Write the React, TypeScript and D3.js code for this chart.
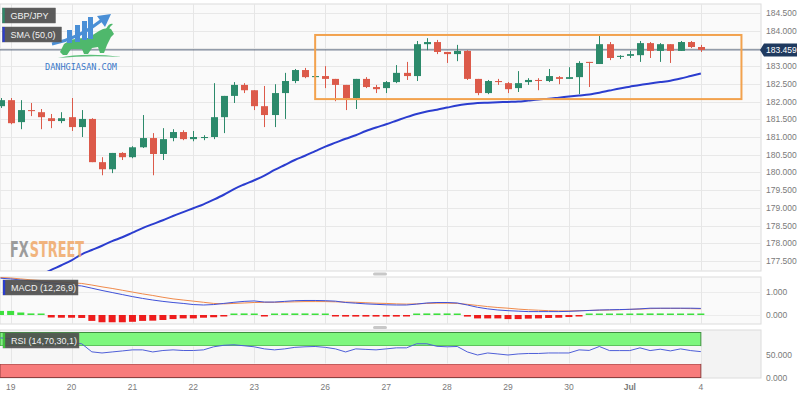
import React from "react";
import * as d3 from "d3";

// ---- Data (GBP/JPY, 4H candles) ----
const opens = [181.87,182.04,181.42,181.76,181.70,181.53,181.45,181.56,181.28,181.51,180.29,180.09,180.55,180.43,180.71,180.97,180.52,180.97,181.14,180.94,180.97,181.00,181.56,182.16,182.47,182.32,181.87,181.62,182.24,182.58,182.89,182.69,182.72,182.64,182.47,182.10,182.64,182.41,182.38,182.55,182.81,182.72,183.62,183.68,183.40,183.34,183.43,182.64,182.24,182.58,182.52,182.38,182.55,182.61,182.58,182.69,182.64,182.69,183.12,183.06,183.62,183.26,183.29,183.31,183.65,183.43,183.62,183.43,183.68,183.54];
const highs = [182.10,182.10,182.04,181.96,181.79,181.65,181.70,182.10,181.76,181.53,180.43,180.55,180.57,180.74,181.62,181.11,181.25,181.22,181.19,181.17,181.05,182.52,182.16,182.55,182.52,182.32,182.44,182.49,182.81,182.92,182.95,182.75,183.00,182.64,182.47,182.64,182.69,182.47,182.58,183.03,183.12,183.71,183.79,183.74,183.40,183.60,183.45,182.64,182.61,182.64,182.55,182.86,182.66,182.66,182.92,182.72,182.97,183.14,183.12,183.85,183.68,183.31,183.43,183.71,183.68,183.65,183.62,183.71,183.71,183.60];
const lows = [181.82,181.36,181.22,181.59,181.22,181.25,181.39,181.17,181.00,180.29,179.92,179.98,180.35,180.40,180.69,179.92,180.35,180.88,180.91,180.88,180.91,180.94,181.11,181.96,182.24,181.76,181.28,181.28,181.51,182.52,182.66,182.66,182.38,182.01,181.76,181.79,182.38,182.24,182.24,182.52,182.61,182.58,183.45,183.34,183.09,183.14,182.61,182.18,182.21,182.47,182.24,182.27,182.47,182.32,182.55,182.49,182.64,182.21,182.41,183.06,183.17,183.20,183.23,183.12,183.23,183.12,183.09,183.43,183.51,183.40];
const closes = [182.04,181.39,181.76,181.73,181.56,181.45,181.53,181.28,181.51,180.29,180.09,180.55,180.43,180.71,180.97,180.52,180.94,181.14,180.94,181.00,181.00,181.56,182.16,182.47,182.32,181.87,181.62,182.24,182.58,182.89,182.69,182.72,182.64,182.47,182.10,182.64,182.41,182.35,182.55,182.81,182.72,183.62,183.68,183.40,183.34,183.43,182.64,182.24,182.58,182.55,182.35,182.52,182.61,182.58,182.72,182.64,182.69,183.09,183.09,183.62,183.23,183.29,183.34,183.65,183.43,183.62,183.43,183.68,183.54,183.459];
const sma50: (number | null)[] = [null,null,null,null,177.11,177.25,177.38,177.52,177.69,177.81,177.93,178.06,178.17,178.30,178.43,178.54,178.65,178.77,178.88,178.99,179.10,179.23,179.37,179.53,179.66,179.78,179.91,180.07,180.21,180.35,180.47,180.60,180.73,180.84,180.95,181.05,181.17,181.27,181.36,181.46,181.56,181.65,181.72,181.77,181.83,181.89,181.93,181.96,181.97,181.98,181.99,182.00,182.03,182.06,182.08,182.11,182.14,182.17,182.20,182.25,182.31,182.37,182.42,182.47,182.51,182.55,182.59,182.65,182.72,182.79];
const macdLine = [1.62,1.59,1.54,1.50,1.45,1.41,1.37,1.32,1.28,1.18,1.08,0.99,0.90,0.81,0.73,0.66,0.60,0.55,0.51,0.46,0.44,0.46,0.51,0.56,0.60,0.62,0.57,0.57,0.60,0.63,0.64,0.64,0.63,0.61,0.55,0.52,0.49,0.47,0.45,0.44,0.44,0.48,0.53,0.55,0.55,0.53,0.44,0.34,0.27,0.22,0.19,0.17,0.15,0.15,0.15,0.15,0.16,0.18,0.20,0.22,0.23,0.24,0.25,0.27,0.30,0.30,0.30,0.30,0.30,0.29];
const signalLine = [1.65,1.63,1.59,1.55,1.52,1.48,1.45,1.42,1.39,1.32,1.24,1.17,1.09,1.01,0.93,0.86,0.78,0.71,0.66,0.61,0.56,0.51,0.49,0.51,0.53,0.55,0.56,0.56,0.57,0.58,0.59,0.59,0.59,0.58,0.57,0.56,0.54,0.52,0.51,0.49,0.48,0.49,0.51,0.52,0.52,0.51,0.47,0.42,0.37,0.33,0.30,0.26,0.23,0.21,0.19,0.18,0.18,0.19,0.20,0.21,0.22,0.23,0.25,0.26,0.28,0.29,0.29,0.29,0.28,0.27];
const macdHist = [0.18,0.18,0.11,0.07,0.02,-0.11,-0.12,-0.12,-0.13,-0.26,-0.32,-0.32,-0.32,-0.30,-0.26,-0.25,-0.22,-0.18,-0.15,-0.15,-0.12,-0.10,-0.04,0.04,0.07,0.06,-0.02,0.02,0.07,0.07,0.07,0.04,0.02,-0.02,-0.07,-0.07,-0.07,-0.07,-0.07,-0.07,-0.04,0.02,0.07,0.07,0.07,0.02,-0.07,-0.15,-0.15,-0.15,-0.18,-0.18,-0.16,-0.15,-0.13,-0.12,-0.09,-0.04,0.02,0.04,0.04,0.04,0.06,0.07,0.07,0.07,0.06,0.04,0.035,0.02];
const rsi14 = [88,86,82,80,77,77,77,77,75,57,54.5,56.8,59,61.4,61.4,56.8,60,61.4,60,60,61.4,68.2,71.6,72.7,70.5,68.2,63.6,61.4,63.6,67,68.2,68.9,67,63.6,56.8,63.6,62.5,61.4,63.6,65.9,65.9,75,75,69.3,68.2,68.9,56.8,50,54.5,52.3,50,52.3,53.4,53.4,54.5,54.5,54.5,61.4,60.2,68.9,59.8,59.8,59.8,65.9,59.8,62.9,59.1,63.6,59.8,57.5];

const dayTickIndex = [1, 7, 13, 19, 25, 32, 38, 44, 50, 56, 62, 69];
const dayLabels = ["19", "20", "21", "22", "23", "26", "27", "28", "29", "30", "Jul", "4"];
const priceTicks = [177.5, 178, 178.5, 179, 179.5, 180, 180.5, 181, 181.5, 182, 182.5, 183, 183.5, 184, 184.5];
const macdTicks = [0, 1];
const rsiTicks = [0, 50];
const lastPrice = 183.459;
const rangeBoxIndex = [31, 73];
const rangeBoxPrice = [182.07, 183.88];

const FONT = "'Liberation Sans', Arial, sans-serif";
const UP = "#2c8a6b";
const DOWN = "#dc5a4a";

export default function App() {
  const panelL = 0, panelR = 761;
  const main = { top: 4, bottom: 271 };
  const macdP = { top: 277, bottom: 324 };
  const rsiP = { top: 330, bottom: 378 };

  const x = d3.scaleLinear().domain([0, 69]).range([0.5, 700.85]);
  const y = d3.scaleLinear().domain([177.5, 184.5]).range([261, 13]);
  const yM = d3.scaleLinear().domain([0, 1]).range([315, 292.3]);
  const yR = d3.scaleLinear().domain([0, 100]).range([377.5, 332.5]);

  const smaPath = d3.line<number | null>()
    .defined((d) => d != null)
    .x((_, i) => x(i))
    .y((d) => y(d as number))
    .curve(d3.curveMonotoneX)(sma50) || "";
  const macdPath = d3.line<number>().x((_, i) => x(i)).y((d) => yM(d))(macdLine) || "";
  const sigPath = d3.line<number>().x((_, i) => x(i)).y((d) => yM(d))(signalLine) || "";
  const rsiPath = d3.line<number>().x((_, i) => x(i)).y((d) => yR(d))(rsi14) || "";

  const lastEnd = x(69);
  const bw = 7;

  const vGrid = (top: number, bottom: number) =>
    dayTickIndex.map((t, k) => (
      <line key={k} x1={Math.round(x(t)) + 0.5} x2={Math.round(x(t)) + 0.5} y1={top} y2={bottom} stroke="#e6e6e6" />
    ));

  const labelBox = (tx: string, bx: number, by: number, w: number, stripe: string) => (
    <g>
      <rect x={bx} y={by} width={w} height={15} fill="#4d4d4d" fillOpacity={0.92} stroke="#6a6a6a" strokeWidth={0.5} />
      <rect x={bx} y={by} width={2.2} height={15} fill={stripe} />
      <text x={bx + 8} y={by + 11} fontSize={9} fill="#f2f2f2" fontFamily={FONT}>{tx}</text>
    </g>
  );

  return (
    <svg width={800} height={400} style={{ position: "absolute", left: 0, top: 0, background: "#fff" }}>
      <defs>
        <clipPath id="mainClip"><rect x={panelL} y={main.top} width={panelR - panelL} height={main.bottom - main.top} /></clipPath>
        <clipPath id="macdClip"><rect x={panelL} y={macdP.top} width={panelR - panelL} height={macdP.bottom - macdP.top} /></clipPath>
      </defs>

      {/* ---------- MAIN PANEL ---------- */}
      <rect x={panelL} y={main.top} width={panelR - panelL} height={main.bottom - main.top} fill="#fafafa" stroke="#dcdcdc" />
      {priceTicks.map((p, k) => (
        <line key={k} x1={panelL} x2={panelR} y1={Math.round(y(p)) + 0.5} y2={Math.round(y(p)) + 0.5} stroke="#e8e8e8" />
      ))}
      {vGrid(main.top, main.bottom)}

      {/* price line */}
      <line x1={panelL} x2={764} y1={y(lastPrice)} y2={y(lastPrice)} stroke="#56647a" strokeWidth={1} />

      <g clipPath="url(#mainClip)">
        {closes.map((c, i) => {
          const o = opens[i];
          const up = c >= o;
          const col = up ? UP : DOWN;
          const cx = Math.round(x(i)) + 0.5;
          const top = y(Math.max(o, c));
          const h = Math.max(1, y(Math.min(o, c)) - top);
          return (
            <g key={i}>
              <line x1={cx} x2={cx} y1={y(highs[i])} y2={y(lows[i])} stroke={col} strokeWidth={1} />
              <rect x={cx - bw / 2} y={top} width={bw} height={h} fill={col} />
            </g>
          );
        })}
        <path d={smaPath} fill="none" stroke="#2b3dcf" strokeWidth={2} />
      </g>

      {/* range box */}
      <rect x={x(rangeBoxIndex[0])} y={y(rangeBoxPrice[1])} width={x(rangeBoxIndex[1]) - x(rangeBoxIndex[0])}
        height={y(rangeBoxPrice[0]) - y(rangeBoxPrice[1])} fill="none" stroke="#f2a24e" strokeWidth={2} />

      {/* watermark logo */}
      <g>
        <path d="M58,58 Q85,52 122,57 Q88,55 58,58 Z" fill="#5cbf7a" />
        <path d="M60,52 L64,44 Q72,37 88,38 L99,31 Q105,27 111,29 L114,34 L111,37 L107,45 L104,53 L100,53 L98,47 L92,48 L88,54 L84,54 L82,49 L71,49 L67,55 L63,55 Z" fill="#4fb86c" />
        <path d="M106,29 Q109,23 113,24 Q110,26 109,30 Z" fill="#4fb86c" />
        <rect x={67} y={30} width={5} height={13} fill="#4a8fd6" />
        <rect x={75} y={25} width={5} height={17} fill="#4a8fd6" />
        <rect x={82} y={21} width={5} height={19} fill="#4a8fd6" />
        <rect x={88} y={17} width={5} height={22} fill="#4a8fd6" />
        <path d="M52,44 Q80,38 102,20" fill="none" stroke="#4a8fd6" strokeWidth={3} />
        <path d="M97,16 L111,14 L105,27 Z" fill="#4a8fd6" />
        <text x={45} y={70} fontSize={8.5} fill="#3b78c8" fontFamily="'DejaVu Sans Mono', monospace" textLength={72} lengthAdjust="spacingAndGlyphs">DANHGIASAN.COM</text>
      </g>

      {/* FXSTREET watermark */}
      <g opacity={0.85} fontSize={17} fontWeight="bold" fontFamily="'Liberation Sans Narrow', 'DejaVu Sans Condensed', sans-serif" transform="translate(0,257) scale(0.84,1.3)">
        <text x={11.9} y={0} fill="#8c8c8c">FX</text>
        <text x={35.5} y={0} fill="#f0a868">STREET</text>
      </g>

      {labelBox("GBP/JPY", 2.5, 8, 53, UP)}
      {labelBox("SMA (50,0)", 2.5, 27, 59, "#2b3dcf")}

      {/* price axis */}
      {priceTicks.map((p, k) => (
        <text key={k} x={766} y={y(p) + 3} fontSize={8.5} fill="#7a7a7a" fontFamily={FONT}>{p.toFixed(3)}</text>
      ))}
      <g>
        <path d={`M760,${y(lastPrice)} L764,${y(lastPrice) - 6.5} L797,${y(lastPrice) - 6.5} L797,${y(lastPrice) + 6.5} L764,${y(lastPrice) + 6.5} Z`} fill="#1f3a5f" />
        <text x={766} y={y(lastPrice) + 3} fontSize={8.5} fill="#fff" fontFamily={FONT}>{lastPrice.toFixed(3)}</text>
      </g>

      {/* handles */}
      <rect x={373} y={272.5} width={14} height={3} rx={1.5} fill="#c8c8c8" />
      <rect x={373} y={326} width={14} height={3} rx={1.5} fill="#c8c8c8" />

      {/* ---------- MACD PANEL ---------- */}
      <rect x={panelL} y={macdP.top} width={panelR - panelL} height={macdP.bottom - macdP.top} fill="#fafafa" stroke="#dcdcdc" />
      {macdTicks.map((t, k) => (
        <line key={k} x1={panelL} x2={panelR} y1={Math.round(yM(t)) + 0.5} y2={Math.round(yM(t)) + 0.5} stroke="#ececec" />
      ))}
      {vGrid(macdP.top, macdP.bottom)}
      <g clipPath="url(#macdClip)">
        {macdHist.map((v, i) => {
          const y0 = yM(0);
          const y1 = yM(v);
          const h = Math.max(1.5, Math.abs(y1 - y0));
          return (
            <rect key={i} x={x(i) - 3.5} y={v >= 0 ? y0 - h : y0} width={7} height={h}
              fill={v >= 0 ? "#3fe03f" : "#ee1c1c"} />
          );
        })}
        <path d={sigPath} fill="none" stroke="#f08a4b" strokeWidth={1} />
        <path d={macdPath} fill="none" stroke="#3f51d8" strokeWidth={1} />
      </g>
      {labelBox("MACD (12,26,9)", 3, 280, 75, "#2b3dcf")}
      {macdTicks.map((t, k) => (
        <text key={k} x={766} y={yM(t) + 3} fontSize={8.5} fill="#7a7a7a" fontFamily={FONT}>{t.toFixed(3)}</text>
      ))}

      {/* ---------- RSI PANEL ---------- */}
      <rect x={panelL} y={rsiP.top} width={panelR - panelL} height={rsiP.bottom - rsiP.top} fill="#f3f3f3" stroke="#dcdcdc" />
      <rect x={panelL} y={yR(100)} width={lastEnd - panelL} height={yR(70) - yR(100)} fill="#7ef77e" stroke="#3f8f3f" strokeWidth={1} />
      <rect x={panelL} y={yR(30)} width={lastEnd - panelL} height={yR(0) - yR(30)} fill="#f77b7b" stroke="#8f3f3f" strokeWidth={1} />
      <rect x={panelL} y={yR(70)} width={lastEnd - panelL} height={yR(30) - yR(70)} fill="#f7f7f7" />
      {vGrid(yR(70) + 0.5, yR(30) - 0.5)}
      <path d={rsiPath} fill="none" stroke="#4f5fd8" strokeWidth={1} />
      {labelBox("RSI (14,70,30,1)", 3, 333, 76, "#3fbf3f")}
      {rsiTicks.map((t, k) => (
        <text key={k} x={766} y={yR(t) + 3} fontSize={8.5} fill="#7a7a7a" fontFamily={FONT}>{t.toFixed(3)}</text>
      ))}

      {/* ---------- X AXIS ---------- */}
      {dayTickIndex.map((t, k) => (
        <text key={k} x={x(t)} y={390} fontSize={8.5} fill="#7a7a7a" textAnchor="middle" fontFamily={FONT}
          fontWeight={dayLabels[k] === "Jul" ? "bold" : "normal"}>{dayLabels[k]}</text>
      ))}
    </svg>
  );
}
